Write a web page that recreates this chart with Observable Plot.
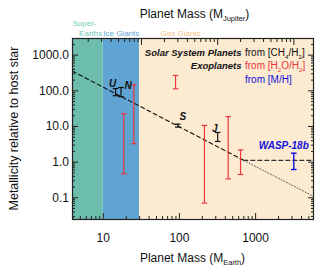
<!DOCTYPE html>
<html><head><meta charset="utf-8">
<script src="https://cdn.jsdelivr.net/npm/d3@7"></script>
<script src="https://cdn.jsdelivr.net/npm/@observablehq/plot@0.6"></script>
<style>body{margin:0;background:#fff;}</style>
</head><body><div id="chart"></div>
<script>
// ---------- data ----------
const ME_PER_MJ = 317.8;
const xDomain = [3.95, 5750];
const yDomain = [0.0246, 2940];

const regionNames = ["Super-Earths", "Ice Giants", "Gas Giants"];
const regionMin = [3.95, 10, 30];
const regionMax = [10, 30, 5750];
const regionColors = ["#6cbdab", "#5fa4d2", "#fdebd1"];
const regionLabelColors = ["#74cab5", "#5ea6d8", "#f3bf8c"];

const ssNames = ["U", "N", "S", "J"];
const ssMass = [14.5, 17.1, 95.2, 317.8];
const ssLo = [73, 69, 9.6, 3.8];
const ssHi = [116, 124, 11.6, 6.8];

const exoMass = [18.6, 25.2, 89, 213, 437, 634];
const exoLo = [0.47, 3.3, 114, 0.071, 0.34, 0.45];
const exoHi = [22.7, 148, 270, 10.7, 19, 2.2];

const wName = ["WASP-18b"];
const wMass = [3170];
const wLo = [0.62];
const wHi = [1.78];

const fitMass = [3.95, 700];
const fitZ = [356, 1.12];
const extMass = [700, 5750];
const extZ = [1.12, 0.11];
const flatMass = [700, 5750];
const flatZ = [1.12, 1.12];

const xMajor = [10, 100, 1000];
const yMajor = [0.1, 1, 10, 100, 1000];
const jupMajor = [0.1, 1, 10];

// ---------- helpers ----------
const FONT = '"Liberation Sans", Arial, Helvetica, sans-serif';
const W = 327, H = 272;
const mL = 72, mR = 14, mT = 38, mB = 53;
const minorOf = (lo, hi) => {
  const out = [];
  for (let e = -3; e <= 4; e++) for (let k = 2; k <= 9; k++) {
    const v = k * Math.pow(10, e);
    if (v > lo && v < hi) out.push(v);
  }
  return out;
};
const xMinor = minorOf(xDomain[0], xDomain[1]);
const yMinor = minorOf(yDomain[0], yDomain[1]);
const jupMinor = minorOf(xDomain[0] / ME_PER_MJ, xDomain[1] / ME_PER_MJ).map(v => v * ME_PER_MJ);

const regions = regionNames.map((n, i) => ({name: n, min: regionMin[i], max: regionMax[i], fill: regionColors[i]}));
const ss = ssNames.map((n, i) => ({name: n, mass: ssMass[i], lo: ssLo[i], hi: ssHi[i]}));
const exo = exoMass.map((m, i) => ({mass: m, lo: exoLo[i], hi: exoHi[i]}));
const wasp = wName.map((n, i) => ({name: n, mass: wMass[i], lo: wLo[i], hi: wHi[i]}));
const fit = fitMass.map((m, i) => ({m, z: fitZ[i]}));
const ext = extMass.map((m, i) => ({m, z: extZ[i]}));
const flat = flatMass.map((m, i) => ({m, z: flatZ[i]}));

const cap = {draw(ctx, size) { const r = Math.sqrt(size / Math.PI); ctx.moveTo(-r, 0); ctx.lineTo(r, 0); }};
const errorBars = (data, color, sw) => [
  Plot.ruleX(data, {x: "mass", y1: "lo", y2: "hi", stroke: color, strokeWidth: sw}),
  Plot.dot(data, {x: "mass", y: "lo", symbol: cap, r: 2.8, stroke: color, fill: "none", strokeWidth: sw}),
  Plot.dot(data, {x: "mass", y: "hi", symbol: cap, r: 2.8, stroke: color, fill: "none", strokeWidth: sw})
];
const RED = "#e8363c", BLUE = "#1010e0", BLK = "#111";
const ssOffsets = {U: [-3, -5], N: [7, -2], S: [5, -7], J: [-3, -4]};
const tickAxesX = (ticks, anchor, len) => Plot.axisX(ticks, {anchor, tickSize: len, dy: anchor === "bottom" ? -len : len, tickFormat: () => "", label: null, stroke: "#222"});
const tickAxesY = (ticks, anchor, len) => Plot.axisY(ticks, {anchor, tickSize: len, dx: anchor === "left" ? len : -len, tickFormat: () => "", label: null, stroke: "#222"});

const chart = Plot.plot({
  width: W, height: H, marginLeft: mL, marginRight: mR, marginTop: mT, marginBottom: mB,
  style: {fontFamily: FONT, fontSize: "12px", color: "#111", background: "#fff"},
  x: {type: "log", domain: xDomain},
  y: {type: "log", domain: yDomain},
  color: {type: "identity"},
  marks: [
    Plot.rect(regions, {x1: "min", x2: "max", fill: "fill"}),
    Plot.line(fit, {x: "m", y: "z", stroke: BLK, strokeWidth: 1.1, strokeDasharray: "4,3"}),
    Plot.line(flat, {x: "m", y: "z", stroke: "#333", strokeWidth: 1.1, strokeDasharray: "4,3"}),
    Plot.line(ext, {x: "m", y: "z", stroke: "#444", strokeWidth: 0.9, strokeDasharray: "1,2"}),
    ...errorBars(exo, RED, 1.2),
    ...errorBars(wasp, BLUE, 1.4),
    ...errorBars(ss, BLK, 1.2),
    ...ss.map(d => Plot.text([d], {x: "mass", y: "hi", text: "name", dx: ssOffsets[d.name][0], dy: ssOffsets[d.name][1], fontWeight: "bold", fontStyle: "italic", fontSize: 10, fill: BLK})),
    Plot.text(wasp, {x: "mass", y: "hi", text: "name", textAnchor: "end", dx: 15, dy: -7, fontWeight: "bold", fontStyle: "italic", fontSize: 10, fill: BLUE}),
    // ticks (inward)
    tickAxesX(xMajor, "bottom", 6), tickAxesX(xMinor, "bottom", 3),
    tickAxesX(jupMajor.map(v => v * ME_PER_MJ), "top", 6), tickAxesX(jupMinor, "top", 3),
    tickAxesY(yMajor, "left", 6), tickAxesY(yMinor, "left", 3),
    tickAxesY(yMajor, "right", 6), tickAxesY(yMinor, "right", 3),
    // tick labels
    Plot.axisX(xMajor, {anchor: "bottom", tickSize: 0, tickPadding: 14, tickFormat: d => String(d), label: null, fontSize: 12}),
    Plot.axisX(jupMajor.map(v => v * ME_PER_MJ), {anchor: "top", tickSize: 0, tickPadding: 8, tickFormat: d => (d / ME_PER_MJ).toFixed(1), label: null, fontSize: 12}),
    Plot.axisY(yMajor, {anchor: "left", tickSize: 0, tickPadding: 3.5, tickFormat: d => d.toFixed(1), label: null, fontSize: 12}),
    Plot.frame({stroke: "#222", strokeWidth: 1.2})
  ]
});
document.getElementById("chart").appendChild(chart);

// ---------- rich text annotations ----------
const svg = d3.select(chart);
const xS = chart.scale("x");
function rich(x, y, parts, {anchor = "start", size = 12, rotate = 0} = {}) {
  const t = svg.append("text").attr("x", x).attr("y", y).attr("text-anchor", anchor)
    .attr("font-family", FONT).attr("font-size", size).attr("fill", "#111");
  if (rotate) t.attr("transform", `rotate(${rotate},${x},${y})`);
  for (const p of parts) {
    const s = t.append("tspan").text(p.t);
    if (p.fill) s.attr("fill", p.fill);
    if (p.bold) s.attr("font-weight", "bold");
    if (p.italic) s.attr("font-style", "italic");
    if (p.sub) { s.attr("font-size", size * 0.62).attr("dy", size * 0.28); }
    if (p.unsub) { s.attr("dy", -size * 0.28); }
  }
  return t;
}
const frameL = mL, frameR = W - mR, frameT = mT, frameB = H - mB;
const midX = (frameL + frameR) / 2, midY = (frameT + frameB) / 2;

// axis titles
rich(midX, frameB + 43, [{t: "Planet Mass (M"}, {t: "Earth", sub: true}, {t: ")", unsub: true}], {anchor: "middle", size: 12});
rich(midX + 2, frameT - 20.5, [{t: "Planet Mass (M"}, {t: "Jupiter", sub: true}, {t: ")", unsub: true}], {anchor: "middle", size: 12});
rich(18, midY, [{t: "Metallicity relative to host star"}], {anchor: "middle", size: 12.5, rotate: -90});

// region labels
rich(frameL + 0.5, frameT - 12, [{t: "Super-", fill: regionLabelColors[0]}], {size: 8});
rich(xS.apply(10) - 0.5, frameT - 2.5, [{t: "Earths", fill: regionLabelColors[0]}], {anchor: "end", size: 8});
rich(xS.apply(10) + 0.5, frameT - 2.5, [{t: "Ice Giants", fill: regionLabelColors[1]}], {size: 8});
rich(xS.apply(105), frameT - 2.5, [{t: "Gas Giants", fill: regionLabelColors[2]}], {anchor: "middle", size: 8});

// legend
const splitX = frameR - 70;
rich(splitX - 1.5, frameT + 18, [{t: "Solar System Planets", bold: true, italic: true}], {anchor: "end", size: 9.5});
rich(splitX + 2, frameT + 18, [{t: "from [CH"}, {t: "4", sub: true}, {t: "/H", unsub: true}, {t: "2", sub: true}, {t: "]", unsub: true}], {size: 10});
rich(splitX - 1.5, frameT + 31, [{t: "Exoplanets", bold: true, italic: true}], {anchor: "end", size: 9.5});
rich(splitX + 2, frameT + 31, [{t: "from [H", fill: RED}, {t: "2", sub: true, fill: RED}, {t: "O/H", unsub: true, fill: RED}, {t: "2", sub: true, fill: RED}, {t: "]", unsub: true, fill: RED}], {size: 10});
rich(splitX + 2, frameT + 45, [{t: "from [M/H]", fill: BLUE}], {size: 10});
</script>
</body></html>
